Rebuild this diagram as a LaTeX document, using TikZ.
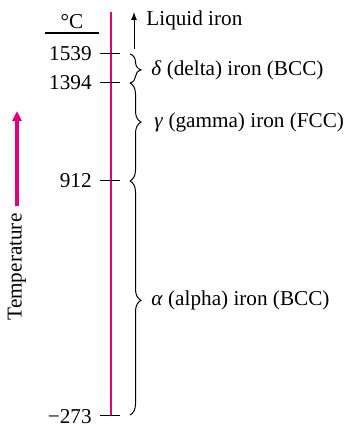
\documentclass[tikz,border=0pt]{standalone}
\usepackage{fontspec}
\setmainfont{Liberation Serif}
\usepackage{xcolor}
\definecolor{cMag}{HTML}{E4007C}
\usepackage{tikz}
\usetikzlibrary{arrows.meta, positioning, decorations.pathreplacing, calc}
\tikzset{
  txt/.style   = {font=\fontsize{10.6}{13}\selectfont},
  temp/.style  = {txt, anchor=east, inner sep=4pt},
  phase/.style = {txt, anchor=west, inner sep=0pt},
  tk/.style    = {line width=0.5pt},
  axis/.style  = {cMag, line width=1pt},
  brc/.style   = {decorate, line width=0.5pt,
                  decoration={brace, amplitude=5.5pt, aspect=#1}},
  brc/.default = 0.5,
}

\begin{document}
\begin{tikzpicture}[x=0.5pt, y=-0.5pt]
  \useasboundingbox (0,0) rectangle (346,426);

  % magenta temperature axis
  \coordinate (top) at (111,12);
  \coordinate (bot) at (111,415);
  \draw[axis] (top) -- (bot);

  % unit header
  \node[txt, anchor=south, minimum width=27pt, inner sep=2pt] (degC) at (72,33) {°C};
  \draw[line width=0.7pt] (degC.south west) -- (degC.south east);

  % tick ends and brace ends
  \coordinate (k1539) at (120,54);
  \coordinate (k1394) at (120,83);
  \coordinate (k912)  at (120,181);
  \coordinate (k273)  at (120,415);
  \coordinate (r1539) at (130,54);
  \coordinate (r1394) at (130,83);
  \coordinate (r912)  at (130,181);
  \coordinate (r273)  at (130,415);

  % temperatures
  \node[temp] (n1539) at (100,54)  {1539};
  \node[temp] (n1394) at (100,83)  {1394};
  \node[temp] (n912)  at (100,181) {912};
  \node[temp] (n273)  at (100,417) {−273};

  \draw[tk] (n1539.east) -- (k1539);
  \draw[tk] (n1394.east) -- (k1394);
  \draw[tk] (n912.east)  -- (k912);
  \draw[tk] (n273.east |- k273) -- (k273);

  % phase braces
  \draw[brc=0.55] (r1539) -- (r1394);
  \draw[brc=0.4]  (r1394) -- (r912);
  \draw[brc=0.51] (r912)  -- (r273);

  % liquid
  \coordinate (lqbase) at (134,49);
  \coordinate (lqtip)  at (134,12);
  \draw[line width=0.5pt, -{Latex[length=4pt, width=3pt]}] (lqbase) -- (lqtip);
  \node[phase] (liq) at (146,20) {Liquid iron};

  \node[phase] (delta) at (151,70)  {\textit{δ} (delta) iron (BCC)};
  \node[phase] (gamma) at (154,122) {\textit{γ} (gamma) iron (FCC)};
  \node[phase] (alpha) at (151,300) {\textit{α} (alpha) iron (BCC)};

  % temperature direction arrow
  \coordinate (tarr0) at (17,206);
  \coordinate (tarr1) at (17,111);
  \draw[cMag, line width=2pt, -{Triangle[length=5pt, width=4.5pt]}] (tarr0) -- (tarr1);
  \node[txt, rotate=90] (tlbl) at (17,267) {Temperature};

\end{tikzpicture}
\end{document}
